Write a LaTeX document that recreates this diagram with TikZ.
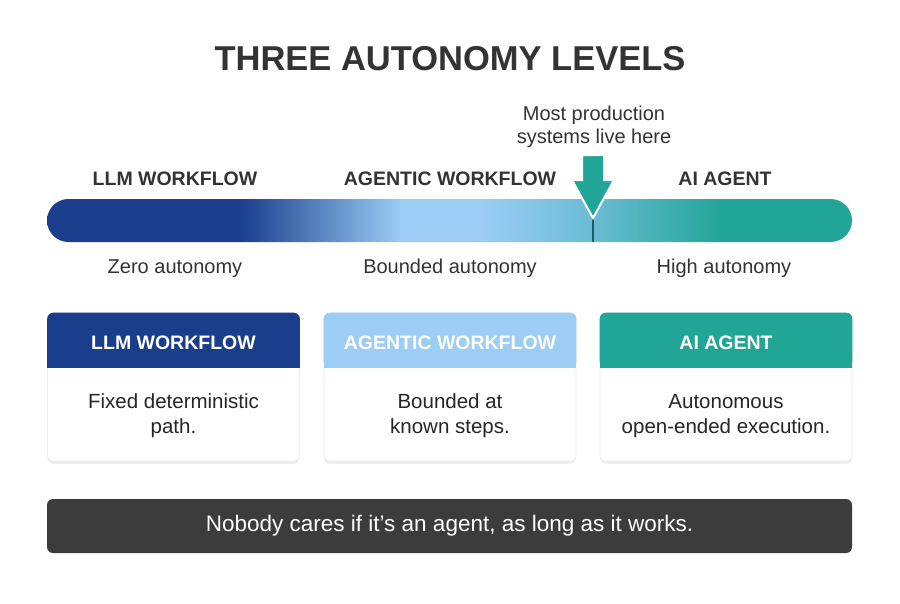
\documentclass[tikz,border=0pt]{standalone}
\usepackage{fontspec}
\setmainfont{Liberation Sans}
\usepackage{xcolor}
\usepackage{tikz}
\usetikzlibrary{shadows}
\definecolor{navyblue}{RGB}{26,62,140}
\definecolor{skyblue}{RGB}{155,205,245}
\definecolor{midteal}{RGB}{105,188,212}
\definecolor{tealgreen}{RGB}{33,165,150}
\definecolor{tealdark}{RGB}{22,92,96}
\definecolor{inkgray}{RGB}{51,51,51}
\definecolor{bannergray}{RGB}{60,60,60}

\pgfdeclarehorizontalshading{autonomy}{100bp}{%
  color(0bp)=(navyblue); color(25bp)=(navyblue); color(37bp)=(navyblue);
  color(47bp)=(skyblue); color(52bp)=(skyblue); color(59bp)=(midteal);
  color(67bp)=(tealgreen); color(75bp)=(tealgreen); color(100bp)=(tealgreen)}

\begin{document}
\begin{tikzpicture}[x=1pt, y=-1pt,
    label text/.style={font=\fontsize{19.5}{23}\selectfont\bfseries, text=inkgray, anchor=base},
    level text/.style={font=\fontsize{20}{24}\selectfont, text=inkgray, anchor=base},
    card/.style={fill=white, draw=black!7, line width=0.6pt, rounded corners=6pt,
      minimum width=252pt, minimum height=148pt, inner sep=0pt,
      drop shadow={opacity=0.13, shadow xshift=0pt, shadow yshift=-3pt}},
    card head/.style={font=\fontsize{19.5}{23}\selectfont\bfseries, text=white, anchor=base},
    card body/.style={font=\fontsize{20.5}{25}\selectfont, text=black!85, align=center}
]

\useasboundingbox[fill=white] (0,0) rectangle (900,603);

% title
\node[font=\fontsize{34.5}{40}\selectfont\bfseries, text=inkgray, anchor=base] (title)
  at (450,70) {THREE AUTONOMY LEVELS};

% autonomy scale
\node[shading=autonomy, rounded corners=21.5pt, minimum width=805pt, minimum height=43pt,
  inner sep=0pt] (scale) at (449.5,220.5) {};

\node[label text] (lblworkflow) at (175,185) {LLM WORKFLOW};
\node[label text] (lblagentic) at (450,185) {AGENTIC WORKFLOW};
\node[label text] (lblagent) at (725,185) {AI AGENT};

\node[level text] (zero) at (175,273) {Zero autonomy};
\node[level text] (bounded) at (450,273) {Bounded autonomy};
\node[level text] (high) at (724,273) {High autonomy};

% marker
\node[font=\fontsize{20}{23}\selectfont, text=inkgray, align=center] (marker)
  at (594,126.5) {Most production\\systems live here};
\coordinate (tip) at (593,218);
\draw[tealdark, line width=1.3pt] (tip) -- (tip |- scale.south);
\filldraw[fill=tealgreen, draw=white, line width=2pt] (tip) -- ++(-21,-38) -- ++(10,0)
  -- ++(0,-25) -- ++(22,0) -- ++(0,25) -- ++(10,0) -- cycle;

% cards
\node[card] (card1) at (173.5,387) {};
\node[card] (card2) at (450,387) {};
\node[card] (card3) at (726,387) {};

\fill[navyblue, rounded corners=6pt] (card1.north west) rectangle ([yshift=-55pt]card1.north east);
\fill[navyblue] ([yshift=-40pt]card1.north west) rectangle ([yshift=-55pt]card1.north east);
\fill[skyblue, rounded corners=6pt] (card2.north west) rectangle ([yshift=-55pt]card2.north east);
\fill[skyblue] ([yshift=-40pt]card2.north west) rectangle ([yshift=-55pt]card2.north east);
\fill[tealgreen, rounded corners=6pt] (card3.north west) rectangle ([yshift=-55pt]card3.north east);
\fill[tealgreen] ([yshift=-40pt]card3.north west) rectangle ([yshift=-55pt]card3.north east);

\node[card head] (head1) at (173.5,349) {LLM WORKFLOW};
\node[card head] (head2) at (450,349) {AGENTIC WORKFLOW};
\node[card head] (head3) at (726,349) {AI AGENT};

\node[card body] (body1) at (173.5,416) {Fixed deterministic\\path.};
\node[card body] (body2) at (450,416) {Bounded at\\known steps.};
\node[card body] (body3) at (726,416) {Autonomous\\open-ended execution.};

% banner
\node[fill=bannergray, rounded corners=6pt, minimum width=805pt, minimum height=54pt,
  text=white, font=\fontsize{22.5}{26}\selectfont] (banner)
  at (449.5,526) {Nobody cares if it’s an agent, as long as it works.};

\end{tikzpicture}
\end{document}
